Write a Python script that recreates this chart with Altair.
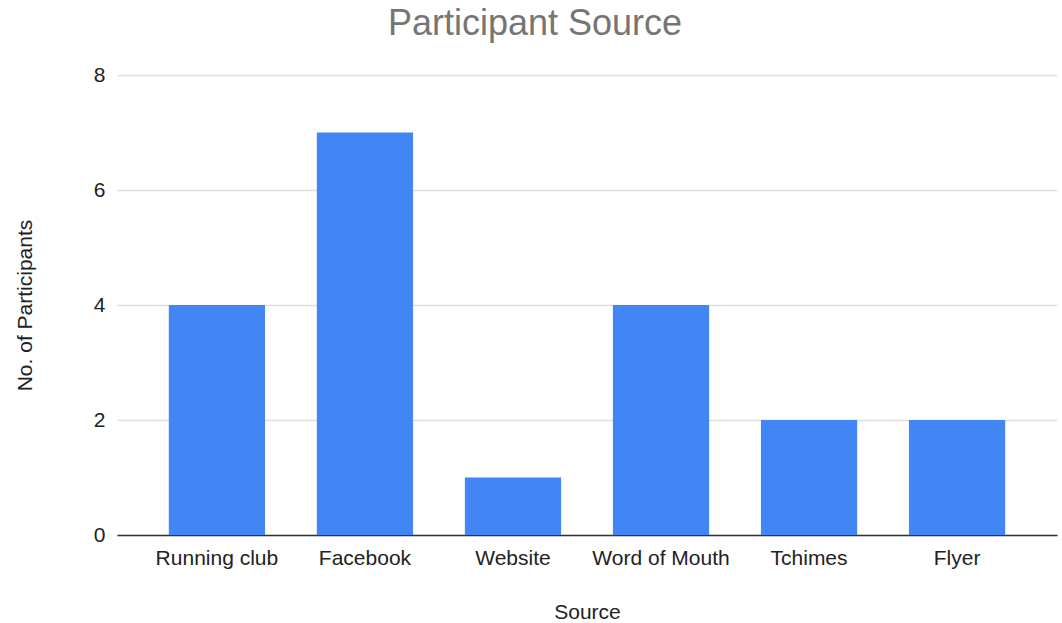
import altair as alt
import pandas as pd

sources = ["Running club", "Facebook", "Website", "Word of Mouth", "Tchimes", "Flyer"]
participants = [4, 7, 1, 4, 2, 2]
y_ticks = [0, 2, 4, 6, 8]

df = pd.DataFrame({"Source": sources, "Participants": participants})

FONT = "Liberation Sans"

chart = (
    alt.Chart(df)
    .mark_bar(color="#4285F4")
    .encode(
        x=alt.X(
            "Source:N",
            sort=sources,
            title="Source",
            scale=alt.Scale(paddingInner=0.35, paddingOuter=0.35),
            axis=alt.Axis(
                labelAngle=0,
                ticks=False,
                domain=True,
                domainColor="#333333",
                domainWidth=1.5,
                labelFont=FONT,
                labelFontSize=21,
                labelColor="#222222",
                labelPadding=12,
                titleFont=FONT,
                titleFontSize=21,
                titleFontWeight="normal",
                titleColor="#222222",
                titlePadding=33,
            ),
        ),
        y=alt.Y(
            "Participants:Q",
            title="No. of Participants",
            scale=alt.Scale(domain=[0, 8], nice=False),
            axis=alt.Axis(
                values=y_ticks,
                ticks=False,
                domain=False,
                grid=True,
                gridColor="#e0e0e0",
                gridWidth=1.5,
                labelFont=FONT,
                labelFontSize=21,
                labelColor="#222222",
                labelPadding=12,
                titleFont=FONT,
                titleFontSize=21,
                titleFontWeight="normal",
                titleColor="#222222",
                titlePadding=58,
            ),
        ),
    )
    .properties(
        width=940,
        height=460,
        title=alt.TitleParams(
            "Participant Source",
            font=FONT,
            fontSize=36,
            fontWeight="normal",
            color="#757575",
            anchor="middle",
            frame="group",
            dx=-52,
            offset=21,
        ),
        autosize=alt.AutoSizeParams(type="none"),
        padding={"left": 117, "top": 75, "right": 5, "bottom": 88},
    )
    .configure_view(stroke=None)
)

chart.save("out.html", embed_options={"renderer": "svg", "actions": False})
